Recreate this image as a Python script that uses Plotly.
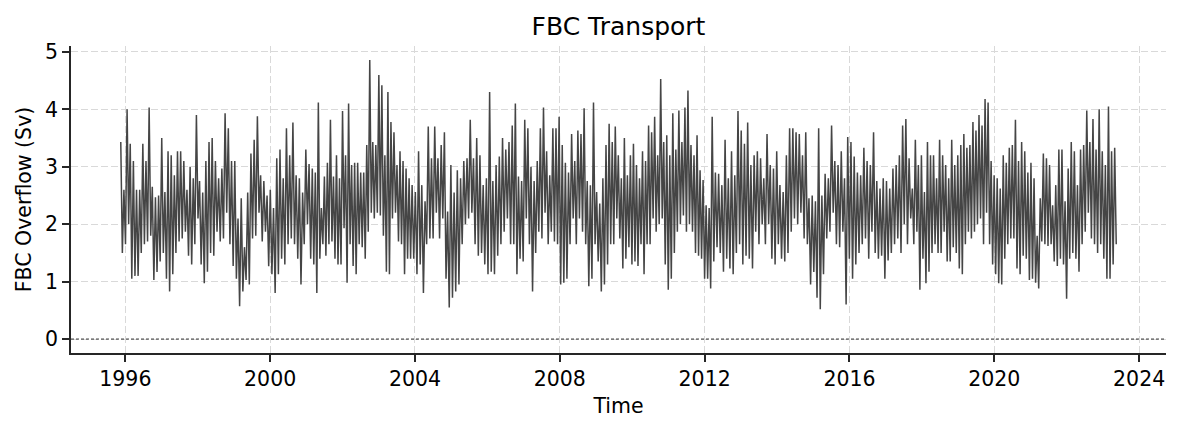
import pandas as pd
import plotly.graph_objects as go

# ---- data (segment peaks / troughs, in Sv) ----
block_edges = ["1995-11-16", "1998-05-26", "2001-03-01", "2003-12-03", "2006-09-08",
               "2009-06-13", "2012-03-17", "2014-12-21", "2017-09-26", "2020-07-01", "2023-05-15"]

peaks_1995 = [3.43, 2.6, 4.0, 3.4, 3.1, 2.6, 2.6, 3.4, 3.1, 4.03, 2.65, 2.47, 2.5, 3.5, 2.56,
              3.27, 3.2, 2.85, 3.27, 3.27, 3.1, 2.6, 3.0, 2.8, 3.9, 2.75, 2.55, 3.1, 3.43]
troughs_1995 = [1.5, 1.65, 2.0, 1.05, 1.1, 1.1, 1.5, 1.65, 1.7, 1.8, 1.03, 1.17, 1.35, 1.5, 1.05,
                0.83, 1.13, 1.5, 1.7, 1.75, 1.87, 1.45, 1.3, 1.65, 2.1, 1.3, 0.97, 1.17, 1.5]

peaks_1998 = [3.5, 3.1, 2.8, 2.97, 3.93, 3.67, 3.1, 3.1, 2.1, 2.45, 1.6, 2.55, 3.23, 3.47, 3.88,
              2.85, 2.75, 2.5, 2.6, 2.28, 3.15, 3.3, 2.8, 3.67, 3.2, 3.77, 2.85, 2.8, 2.55, 3.3, 3.05]
troughs_1998 = [1.45, 1.87, 1.7, 1.75, 2.2, 1.65, 1.27, 1.05, 0.57, 0.83, 1.03, 0.95, 1.75, 1.8, 2.2,
                1.7, 1.87, 1.27, 1.13, 0.8, 1.13, 1.4, 1.3, 1.65, 1.75, 1.65, 1.4, 0.95, 1.65, 2.0, 1.4]

peaks_2001 = [2.97, 2.9, 4.12, 2.28, 2.83, 3.07, 3.82, 2.83, 3.2, 2.8, 3.97, 3.2, 4.1, 3.03, 3.07,
              3.07, 2.9, 2.9, 3.38, 4.86, 3.43, 3.38, 4.6, 4.42, 3.2, 4.3, 3.78, 3.6, 3.03, 3.27,
              3.1, 2.97, 2.8]
troughs_2001 = [1.3, 0.8, 1.4, 1.65, 1.45, 1.65, 1.7, 1.4, 1.3, 1.3, 1.93, 0.98, 1.65, 1.27, 1.13,
                1.65, 1.6, 1.4, 1.87, 2.2, 2.1, 2.2, 2.15, 1.8, 1.17, 1.13, 2.1, 2.2, 1.7, 1.65,
                1.13, 1.4, 1.4]

peaks_2003 = [2.68, 2.56, 3.27, 2.68, 2.4, 3.7, 3.15, 3.7, 3.15, 3.38, 3.6, 2.22, 3.03, 2.55, 2.94,
              2.8, 3.1, 3.15, 3.82, 3.15, 3.5, 3.2, 2.68, 2.8, 4.3, 2.75, 3.03, 3.18, 3.5, 3.3, 3.43]
troughs_2003 = [1.4, 1.13, 1.3, 0.8, 1.65, 1.75, 1.75, 2.2, 1.75, 2.1, 1.05, 0.55, 0.72, 0.83, 0.95,
                1.65, 2.0, 2.1, 2.2, 1.65, 1.45, 1.5, 1.3, 1.13, 1.17, 1.13, 1.45, 1.65, 1.87, 2.1, 1.65]

peaks_2006 = [3.72, 4.1, 2.83, 2.75, 3.82, 3.67, 3.0, 2.75, 3.1, 3.67, 4.03, 3.27, 2.85, 3.67, 3.67,
              3.87, 3.38, 3.07, 2.9, 3.57, 3.1, 3.63, 3.57, 4.02, 2.75, 2.68, 4.12, 2.56, 2.36, 2.8,
              3.38, 3.75]
troughs_2006 = [1.65, 1.13, 1.4, 1.35, 2.1, 1.65, 0.83, 1.5, 1.87, 1.75, 2.2, 1.65, 1.87, 1.7, 1.65,
                0.95, 0.98, 1.05, 1.65, 2.1, 1.65, 2.1, 1.87, 1.65, 0.92, 1.05, 1.65, 1.35, 0.83, 0.95,
                1.3, 1.65]

peaks_2009 = [3.43, 3.7, 3.2, 2.8, 3.5, 2.85, 3.2, 3.4, 3.03, 2.8, 3.27, 3.1, 3.72, 3.6, 3.87,
              3.2, 4.53, 3.43, 3.55, 3.2, 3.93, 3.3, 3.98, 3.43, 4.03, 4.33, 3.38, 3.2, 3.55, 2.94,
              2.77, 2.33, 2.28]
troughs_2009 = [1.65, 2.1, 1.75, 1.23, 1.4, 1.6, 1.3, 1.35, 1.27, 1.65, 1.13, 1.65, 1.65, 2.1, 1.87,
                2.0, 2.1, 1.3, 0.86, 1.05, 1.5, 1.87, 2.0, 2.15, 1.87, 2.0, 1.87, 1.5, 1.45, 1.4,
                1.05, 1.05, 0.88]

peaks_2012 = [3.87, 2.9, 2.88, 2.68, 3.47, 2.8, 3.27, 2.85, 3.97, 3.63, 3.4, 3.77, 3.03, 3.2, 3.27,
              3.15, 2.8, 3.57, 3.03, 2.97, 3.27, 2.68, 2.56, 3.2, 3.67, 3.67, 3.6, 3.57, 3.2, 3.6, 2.45]
troughs_2012 = [1.35, 1.6, 1.5, 1.17, 1.4, 1.23, 1.13, 1.5, 1.65, 1.3, 1.45, 1.4, 1.23, 1.87, 1.65,
                2.0, 1.65, 2.0, 1.4, 1.3, 1.65, 1.4, 1.35, 1.5, 1.87, 2.1, 2.0, 2.2, 1.75, 1.65, 0.95]

peaks_2014 = [2.5, 2.4, 3.67, 2.5, 2.88, 2.8, 3.72, 3.1, 3.03, 3.27, 2.8, 3.52, 3.43, 3.18, 2.9,
              2.85, 3.33, 3.1, 3.03, 3.6, 2.75, 2.62, 2.8, 2.75, 2.62, 2.97, 3.03, 3.2, 3.72, 3.83, 3.15]
troughs_2014 = [1.17, 0.72, 0.52, 1.13, 1.75, 1.87, 2.2, 1.65, 1.6, 1.87, 0.6, 1.4, 1.05, 1.3, 1.5,
                1.65, 1.75, 1.4, 1.87, 1.5, 1.4, 1.45, 1.05, 1.37, 1.5, 1.65, 1.75, 1.5, 2.0, 1.65, 2.1]

peaks_2017 = [2.62, 3.47, 3.03, 3.2, 2.56, 3.43, 3.2, 3.2, 2.8, 3.47, 3.2, 3.03, 2.8, 3.47, 3.03,
              3.2, 3.38, 3.57, 3.33, 3.38, 3.78, 3.63, 3.9, 3.72, 4.18, 4.12, 3.1, 2.85, 2.8, 2.62,
              3.2, 3.07, 3.33]
troughs_2017 = [1.65, 1.87, 0.86, 1.4, 0.97, 1.17, 1.5, 1.65, 1.5, 1.5, 1.87, 1.35, 1.35, 1.6, 1.5,
                1.23, 1.13, 1.65, 1.87, 1.75, 1.87, 2.0, 2.1, 1.65, 2.2, 1.65, 1.3, 1.13, 0.97, 0.95,
                1.4, 1.65, 1.75]

peaks_2020 = [3.38, 3.82, 3.1, 3.43, 3.27, 2.9, 3.07, 2.8, 1.8, 2.45, 3.23, 3.15, 3.03, 2.33, 2.68,
              3.3, 3.3, 2.4, 2.97, 3.43, 3.27, 2.68, 3.3, 3.38, 3.98, 3.43, 3.83, 3.3, 4.0, 3.27,
              3.03, 4.05, 3.27, 3.33]
troughs_2020 = [1.75, 1.23, 1.13, 1.45, 1.4, 1.03, 1.05, 0.98, 0.88, 1.7, 1.65, 1.62, 1.65, 1.35, 1.27,
                1.4, 1.3, 0.7, 1.4, 1.5, 1.4, 1.17, 1.65, 1.87, 2.2, 1.75, 1.65, 1.5, 1.65, 1.4,
                1.05, 1.05, 1.3, 1.65]

tick_years = [1996, 2000, 2004, 2008, 2012, 2016, 2020, 2024]
y_ticks = [0, 1, 2, 3, 4, 5]
zero_level = 0

peaks = [peaks_1995, peaks_1998, peaks_2001, peaks_2003, peaks_2006,
         peaks_2009, peaks_2012, peaks_2014, peaks_2017, peaks_2020]
troughs = [troughs_1995, troughs_1998, troughs_2001, troughs_2003, troughs_2006,
           troughs_2009, troughs_2012, troughs_2014, troughs_2017, troughs_2020]

dates, values = [], []
for i, (hi, lo) in enumerate(zip(peaks, troughs)):
    n = len(hi)
    last = i == len(peaks) - 1
    d = pd.date_range(block_edges[i], block_edges[i + 1], periods=2 * n + (0 if last else 1))
    for k in range(n):
        dates += [d[2 * k], d[2 * k + 1]]
        values += [hi[k], lo[k]]

t0, t1 = pd.Timestamp(dates[0]), pd.Timestamp(dates[-1])
pad = (t1 - t0) * 0.05
x_range = [t0 - pad, t1 + pad]
vmax = max(values)
y_range = [zero_level - 0.05 * vmax, vmax * 1.05]

# page has an 8px body margin, so the figure is sized to fill the 1180x431 window
W, H = 1172, 423

fig = go.Figure()
fig.add_trace(go.Scatter(x=dates, y=values, mode="lines",
                         line=dict(color="#454545", width=1.5),
                         showlegend=False, hoverinfo="skip"))
fig.add_shape(type="line", xref="paper", x0=0, x1=1, yref="y", y0=zero_level, y1=zero_level,
              line=dict(color="black", width=0.8, dash="3px,2px"))

axis_common = dict(showline=True, linecolor="#262626", linewidth=1.6,
                   ticks="outside", ticklen=7, tickwidth=1.6, tickcolor="#262626",
                   tickfont=dict(size=20.5, color="black"),
                   showgrid=True, gridcolor="#d9d9d9", gridwidth=1, griddash="7px,3px",
                   zeroline=False, mirror=False)

fig.update_layout(
    width=W, height=H,
    margin=dict(l=63, r=14, t=38, b=78),
    plot_bgcolor="white", paper_bgcolor="white",
    font=dict(family="DejaVu Sans", size=20.5, color="black"),
    title=dict(text="FBC Transport", x=0.5, xref="paper", xanchor="center",
               y=1 - 18 / H, yref="container", yanchor="middle",
               font=dict(size=25, color="black")),
    xaxis=dict(range=x_range, tickvals=[pd.Timestamp(f"{y}-01-01") for y in tick_years],
               ticktext=[str(y) for y in tick_years],
               title=dict(text="Time", standoff=8, font=dict(size=20.5)), **axis_common),
    yaxis=dict(range=y_range, tickvals=y_ticks, ticktext=[str(v) for v in y_ticks],
               title=dict(text="FBC Overflow (Sv)", standoff=8, font=dict(size=20.5)),
               **axis_common),
)

fig.write_html("out.html")
